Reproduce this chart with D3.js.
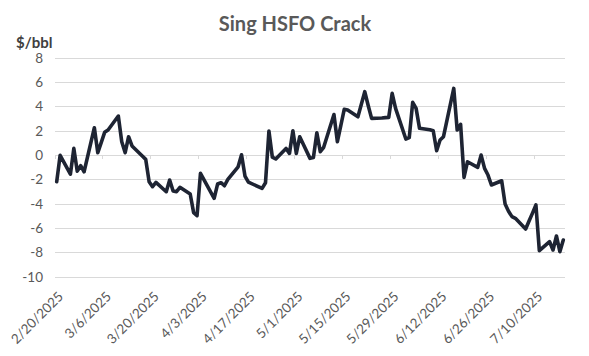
<!DOCTYPE html>
<html><head><meta charset="utf-8">
<script src="https://cdn.jsdelivr.net/npm/d3@7"></script>
<style>
html,body{margin:0;padding:0;background:#fff;}
svg{display:block;font-family:Lato,"Open Sans",sans-serif;}
</style></head>
<body>
<svg id="c" width="589" height="356"></svg>
<script>
const dates = ["2025-02-20","2025-02-21","2025-02-24","2025-02-25","2025-02-26","2025-02-27","2025-02-28",
"2025-03-03","2025-03-04","2025-03-05","2025-03-06","2025-03-07","2025-03-10","2025-03-11","2025-03-12","2025-03-13","2025-03-14",
"2025-03-17","2025-03-18","2025-03-19","2025-03-20","2025-03-21","2025-03-24","2025-03-25","2025-03-26","2025-03-27","2025-03-28",
"2025-03-31","2025-04-01","2025-04-02","2025-04-03","2025-04-04","2025-04-07","2025-04-08","2025-04-09","2025-04-10","2025-04-11",
"2025-04-14","2025-04-15","2025-04-16","2025-04-17","2025-04-21","2025-04-22","2025-04-23","2025-04-24","2025-04-25",
"2025-04-28","2025-04-29","2025-04-30","2025-05-01","2025-05-02","2025-05-05","2025-05-06","2025-05-07","2025-05-08","2025-05-09",
"2025-05-12","2025-05-13","2025-05-14","2025-05-15","2025-05-16","2025-05-19","2025-05-20","2025-05-21","2025-05-22","2025-05-23",
"2025-05-26","2025-05-27","2025-05-28","2025-05-29","2025-05-30","2025-06-02","2025-06-03","2025-06-04","2025-06-05","2025-06-06",
"2025-06-09","2025-06-10","2025-06-11","2025-06-12","2025-06-13","2025-06-16","2025-06-17","2025-06-18","2025-06-19","2025-06-20",
"2025-06-23","2025-06-24","2025-06-25","2025-06-26","2025-06-27","2025-06-30","2025-07-01","2025-07-02","2025-07-03","2025-07-04",
"2025-07-07","2025-07-08","2025-07-09","2025-07-10","2025-07-11","2025-07-14","2025-07-15","2025-07-16","2025-07-17","2025-07-18"];
const crack = [-2.17,0.0,-1.55,0.57,-1.3,-0.85,-1.35,
2.27,0.22,1.05,1.89,2.08,3.23,1.12,0.22,1.53,0.77,
-0.06,-0.33,-2.17,-2.58,-2.22,-2.99,-2.03,-2.93,-2.99,-2.63,
-3.18,-4.71,-4.96,-1.48,-2.0,-3.53,-2.36,-2.25,-2.5,-1.98,
-0.94,0.05,-1.7,-2.2,-2.72,-2.25,2.0,-0.15,-0.3,
0.57,0.16,2.02,0.16,1.53,-0.25,-0.17,1.86,0.3,0.66,
3.35,1.12,2.45,3.78,3.72,3.17,4.2,5.23,4.1,3.04,
3.07,3.1,3.12,5.09,3.86,1.34,1.45,4.35,3.86,2.22,
2.1,2.02,0.38,1.26,1.53,5.5,2.08,2.55,-1.81,-0.53,
-0.99,0.02,-1.07,-1.62,-2.44,-2.09,-4.0,-4.6,-5.04,-5.18,
-6.06,-5.4,-4.75,-4.08,-7.84,-7.1,-7.78,-6.63,-7.92,-6.96];
const tickDates = ["2025-02-20","2025-03-06","2025-03-20","2025-04-03","2025-04-17","2025-05-01","2025-05-15","2025-05-29","2025-06-12","2025-06-26","2025-07-10"];
const tickLabels = ["2/20/2025","3/6/2025","3/20/2025","4/3/2025","4/17/2025","5/1/2025","5/15/2025","5/29/2025","6/12/2025","6/26/2025","7/10/2025"];
const yTicks = [-10,-8,-6,-4,-2,0,2,4,6,8];
const title = "Sing HSFO Crack";
const unitLabel = "$/bbl";

const parse = d3.utcParse("%Y-%m-%d");
const DAY = 864e5;
const svg = d3.select("#c");
const L = 55, R = 565, T = 58, B = 277;

const x = d3.scaleUtc().domain([parse("2025-02-20"), new Date(+parse("2025-07-18") + DAY)]).range([L, R]);
const y = d3.scaleLinear().domain([-10, 8]).range([B, T]);
const mid = d => new Date(+d + DAY / 2);

// gridlines
svg.append("g").selectAll("line").data(yTicks).join("line")
  .attr("x1", L).attr("x2", R)
  .attr("y1", d => y(d)).attr("y2", d => y(d))
  .attr("stroke", "#d9d9d9").attr("stroke-width", 1).attr("shape-rendering", "crispEdges");

// y labels
svg.append("g").selectAll("text").data(yTicks).join("text")
  .attr("x", 43).attr("y", d => y(d)).attr("dy", "0.35em")
  .attr("text-anchor", "end").attr("font-size", 13.5).attr("fill", "#595959")
  .text(d => d);

// x axis at zero with ticks
const td = tickDates.map(parse);
svg.append("g").selectAll("line").data(td).join("line")
  .attr("x1", d => x(d)).attr("x2", d => x(d))
  .attr("y1", y(0)).attr("y2", y(0) + 4)
  .attr("stroke", "#d9d9d9").attr("shape-rendering", "crispEdges");

// x labels
svg.append("g").selectAll("text").data(td).join("text")
  .attr("transform", d => `translate(${x(mid(d)) + 4},${294}) rotate(-45)`)
  .attr("text-anchor", "end").attr("dy", "0.35em")
  .attr("font-size", 13.5).attr("fill", "#595959")
  .text((d, i) => tickLabels[i]);

// line
const pts = dates.map((d, i) => ({ d: parse(d), v: crack[i] }));
svg.append("path").datum(pts)
  .attr("fill", "none").attr("stroke", "#1e2433").attr("stroke-width", 3.6)
  .attr("stroke-linejoin", "round").attr("stroke-linecap", "round")
  .attr("d", d3.line().x(p => x(mid(p.d))).y(p => y(p.v)));

// title
svg.append("text").attr("x", 295).attr("y", 31).attr("text-anchor", "middle")
  .attr("font-size", 20).attr("font-weight", "bold").attr("fill", "#595959").text(title);
svg.append("text").attr("x", 16).attr("y", 48)
  .attr("font-size", 15).attr("font-weight", "bold").attr("fill", "#404040").text(unitLabel);
</script>
</body></html>
